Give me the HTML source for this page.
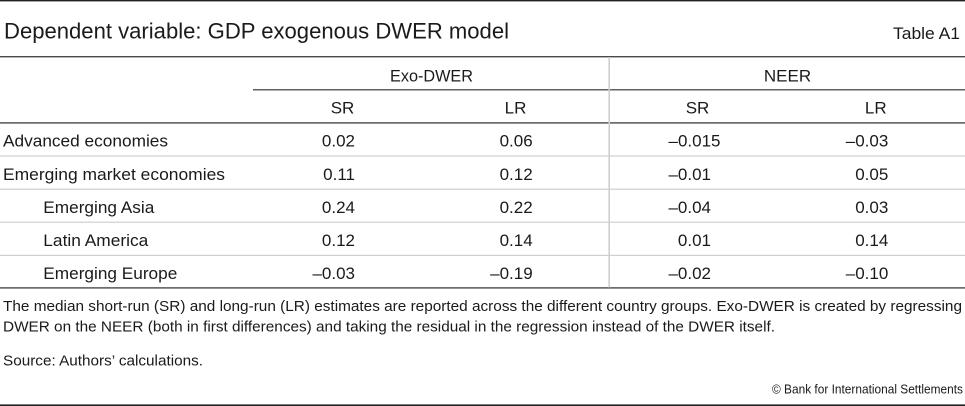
<!DOCTYPE html>
<html>
<head>
<meta charset="utf-8">
<style>
  html,body{margin:0;padding:0;background:#fff;}
  svg{display:block;}
  text{font-family:"Liberation Sans", Arial, sans-serif; fill:#1a1a1a;}
</style>
</head>
<body>
<svg width="965" height="406" viewBox="0 0 965 406" xmlns="http://www.w3.org/2000/svg">
  <!-- top border -->
  <rect x="0" y="0" width="965" height="1.4" fill="#222"/>
  <!-- title -->
  <text x="4" y="38.5" font-size="22" textLength="505" lengthAdjust="spacingAndGlyphs">Dependent variable: GDP exogenous DWER model</text>
  <text x="960" y="39" font-size="16.5" text-anchor="end" textLength="67" lengthAdjust="spacingAndGlyphs">Table A1</text>

  <!-- table lines -->
  <rect x="0" y="56" width="965" height="1.4" fill="#4a4a4a"/>
  <rect x="253" y="89.2" width="712" height="1.2" fill="#3a3a3a"/>
  <rect x="0" y="122.2" width="965" height="1.4" fill="#4a4a4a"/>
  <rect x="0" y="155.4" width="965" height="1.2" fill="#cfcfcf"/>
  <rect x="0" y="188.6" width="965" height="1.2" fill="#cfcfcf"/>
  <rect x="0" y="221.6" width="965" height="1.2" fill="#cfcfcf"/>
  <rect x="0" y="254.8" width="965" height="1.2" fill="#cfcfcf"/>
  <rect x="0" y="287.2" width="965" height="1.4" fill="#4a4a4a"/>
  <rect x="608.4" y="57" width="1.6" height="230.5" fill="#cfcfcf"/>

  <!-- headers -->
  <text x="431.5" y="81.5" font-size="17" text-anchor="middle" textLength="83" lengthAdjust="spacingAndGlyphs">Exo-DWER</text>
  <text x="787.5" y="81.5" font-size="17" text-anchor="middle">NEER</text>
  <text x="342.5" y="113.3" font-size="17" text-anchor="middle">SR</text>
  <text x="515.5" y="113.3" font-size="17" text-anchor="middle">LR</text>
  <text x="697.5" y="113.3" font-size="17" text-anchor="middle">SR</text>
  <text x="875.8" y="113.3" font-size="17" text-anchor="middle">LR</text>

  <!-- row labels -->
  <text x="3" y="146.7" font-size="17" textLength="165" lengthAdjust="spacingAndGlyphs">Advanced economies</text>
  <text x="3" y="180" font-size="17" textLength="222" lengthAdjust="spacingAndGlyphs">Emerging market economies</text>
  <text x="43.3" y="212.8" font-size="17" textLength="111" lengthAdjust="spacingAndGlyphs">Emerging Asia</text>
  <text x="43.3" y="245.8" font-size="17" textLength="105" lengthAdjust="spacingAndGlyphs">Latin America</text>
  <text x="43.3" y="279" font-size="17" textLength="134" lengthAdjust="spacingAndGlyphs">Emerging Europe</text>

  <g font-size="17" text-anchor="end">
    <!-- Exo SR -->
    <text x="355" y="146.7">0.02</text>
    <text x="355" y="180">0.11</text>
    <text x="355" y="212.8">0.24</text>
    <text x="355" y="245.8">0.12</text>
    <text x="355" y="279">–0.03</text>
    <!-- Exo LR -->
    <text x="532.7" y="146.7">0.06</text>
    <text x="532.7" y="180">0.12</text>
    <text x="532.7" y="212.8">0.22</text>
    <text x="532.7" y="245.8">0.14</text>
    <text x="532.7" y="279">–0.19</text>
    <!-- NEER SR -->
    <text x="720.5" y="146.7">–0.015</text>
    <text x="711" y="180">–0.01</text>
    <text x="711" y="212.8">–0.04</text>
    <text x="711" y="245.8">0.01</text>
    <text x="711" y="279">–0.02</text>
    <!-- NEER LR -->
    <text x="888.3" y="146.7">–0.03</text>
    <text x="888.3" y="180">0.05</text>
    <text x="888.3" y="212.8">0.03</text>
    <text x="888.3" y="245.8">0.14</text>
    <text x="888.3" y="279">–0.10</text>
  </g>

  <!-- footnotes -->
  <text x="3" y="311" font-size="15" textLength="959" lengthAdjust="spacingAndGlyphs">The median short-run (SR) and long-run (LR) estimates are reported across the different country groups. Exo-DWER is created by regressing</text>
  <text x="3" y="331.7" font-size="15" textLength="772" lengthAdjust="spacingAndGlyphs">DWER on the NEER (both in first differences) and taking the residual in the regression instead of the DWER itself.</text>
  <text x="3" y="365.7" font-size="15" textLength="200" lengthAdjust="spacingAndGlyphs">Source: Authors’ calculations.</text>
  <text x="963" y="393.3" font-size="13" text-anchor="end" textLength="191" lengthAdjust="spacingAndGlyphs">© Bank for International Settlements</text>

  <!-- bottom border -->
  <rect x="0" y="404.4" width="965" height="1.6" fill="#222"/>
</svg>
</body>
</html>
